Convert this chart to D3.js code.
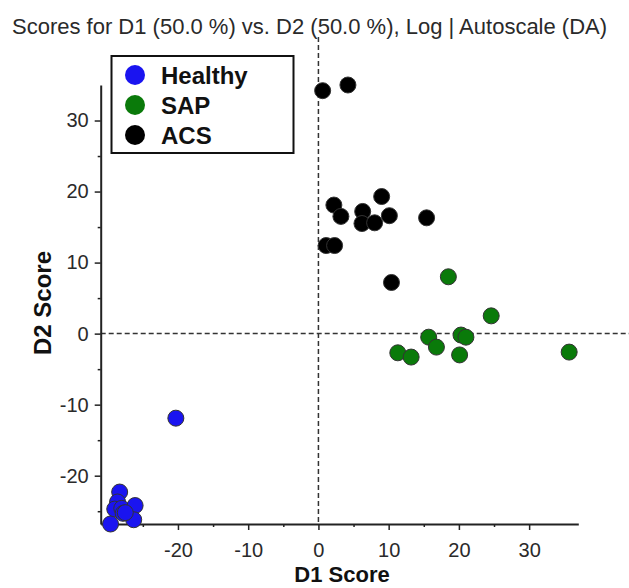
<!DOCTYPE html>
<html>
<head>
<meta charset="utf-8">
<script src="https://cdn.jsdelivr.net/npm/d3@7"></script>
<style>
  html, body { margin: 0; padding: 0; background: #fff; }
  svg { display: block; }
  text { font-family: "Liberation Sans", Arial, sans-serif; }
</style>
</head>
<body>
<svg id="chart" width="629" height="588"></svg>
<script>
// ---- Data ----
const groups = ["Healthy", "SAP", "ACS"];
const groupColors = ["#1a14f0", "#0a7a0a", "#000000"];

const healthyD1 = [-20.3, -28.3, -28.6, -29.0, -28.0, -26.1, -27.8, -26.3, -29.6, -27.5];
const healthyD2 = [-11.9, -22.3, -23.7, -24.7, -24.6, -24.2, -25.3, -26.2, -26.8, -25.2];

const sapD1 = [18.5, 24.6, 15.7, 20.3, 21.0, 16.8, 11.3, 13.2, 20.1, 35.7];
const sapD2 = [8.0, 2.5, -0.5, -0.2, -0.5, -1.9, -2.7, -3.3, -3.0, -2.6];

const acsD1 = [0.6, 4.2, 9.0, 2.2, 3.2, 6.3, 6.2, 8.0, 10.1, 15.4, 1.1, 2.3, 10.4];
const acsD2 = [34.2, 35.0, 19.3, 18.1, 16.5, 17.2, 15.5, 15.6, 16.6, 16.3, 12.4, 12.4, 7.2];

const xMajorTicks = [-20, -10, 0, 10, 20, 30];
const xMinorTicks = [-25, -15, -5, 5, 15, 25];
const yMajorTicks = [-20, -10, 0, 10, 20, 30];
const yMinorTicks = [-25, -15, -5, 5, 15, 25];

const titleText = "Scores for D1 (50.0 %) vs. D2 (50.0 %), Log | Autoscale (DA)";
const xLabel = "D1 Score";
const yLabel = "D2 Score";

// ---- Build ----
const svg = d3.select("#chart");
const x = d3.scaleLinear().domain([-31.0, 37]).range([100.7, 578.3]);
const y = d3.scaleLinear().domain([-26.8, 35]).range([524, 85]);

const axisColor = "#222";
const textColor = "#2a2a2a";
const fmt = d => String(d); // plain hyphen-minus as in the reference

// Title
svg.append("text")
  .attr("x", 12).attr("y", 34)
  .attr("font-size", 22)
  .attr("fill", textColor)
  .text(titleText);

// Dashed reference lines
svg.append("line")
  .attr("x1", x(0)).attr("x2", x(0))
  .attr("y1", 37).attr("y2", y.range()[0])
  .attr("stroke", "#333").attr("stroke-width", 1.5)
  .attr("stroke-dasharray", "5,3");
svg.append("line")
  .attr("x1", x.range()[0]).attr("x2", 629)
  .attr("y1", y(0)).attr("y2", y(0))
  .attr("stroke", "#333").attr("stroke-width", 1.5)
  .attr("stroke-dasharray", "5,3");

// Axes
const gx = svg.append("g").attr("transform", `translate(0,${y.range()[0]})`);
gx.call(d3.axisBottom(x).tickValues(xMajorTicks).tickFormat(fmt).tickSize(6).tickSizeOuter(0).tickPadding(13));
const gxm = svg.append("g").attr("transform", `translate(0,${y.range()[0]})`);
gxm.call(d3.axisBottom(x).tickValues(xMinorTicks).tickSize(3).tickSizeOuter(0).tickFormat(""));
gxm.select(".domain").remove();

const gy = svg.append("g").attr("transform", `translate(${x.range()[0]},0)`);
gy.call(d3.axisLeft(y).tickValues(yMajorTicks).tickFormat(fmt).tickSize(6).tickSizeOuter(0).tickPadding(6));
const gym = svg.append("g").attr("transform", `translate(${x.range()[0]},0)`);
gym.call(d3.axisLeft(y).tickValues(yMinorTicks).tickSize(3).tickSizeOuter(0).tickFormat(""));
gym.select(".domain").remove();

[gx, gy, gxm, gym].forEach(g => {
  g.selectAll(".domain").attr("stroke", axisColor).attr("stroke-width", 2);
  g.selectAll(".tick line").attr("stroke", axisColor).attr("stroke-width", 1.5);
  g.selectAll(".tick text")
    .attr("font-family", "'Liberation Sans', Arial, sans-serif")
    .attr("font-size", 20)
    .attr("fill", textColor);
});

// Axis labels
svg.append("text")
  .attr("x", 342).attr("y", 582)
  .attr("text-anchor", "middle")
  .attr("font-size", 22).attr("font-weight", "bold")
  .attr("fill", "#111")
  .text(xLabel);
svg.append("text")
  .attr("transform", "translate(51,303) rotate(-90)")
  .attr("text-anchor", "middle")
  .attr("font-size", 24).attr("font-weight", "bold")
  .attr("fill", "#111")
  .text(yLabel);

// Points
const series = [
  { xs: healthyD1, ys: healthyD2, c: groupColors[0] },
  { xs: sapD1, ys: sapD2, c: groupColors[1] },
  { xs: acsD1, ys: acsD2, c: groupColors[2] }
];
series.forEach(s => {
  svg.append("g").selectAll("circle")
    .data(s.xs.map((v, i) => [v, s.ys[i]]))
    .join("circle")
    .attr("cx", d => x(d[0]))
    .attr("cy", d => y(d[1]))
    .attr("r", 8)
    .attr("fill", s.c)
    .attr("stroke", "#333")
    .attr("stroke-width", 1);
});

// Legend
const lg = svg.append("g");
lg.append("rect")
  .attr("x", 111.5).attr("y", 56)
  .attr("width", 182).attr("height", 97)
  .attr("fill", "#fff")
  .attr("stroke", "#111").attr("stroke-width", 2);
groups.forEach((g, i) => {
  const cy = 75 + i * 30;
  lg.append("circle")
    .attr("cx", 135).attr("cy", cy).attr("r", 10)
    .attr("fill", groupColors[i]);
  lg.append("text")
    .attr("x", 161).attr("y", cy + 8.5)
    .attr("font-size", 24).attr("font-weight", "bold")
    .attr("fill", "#111")
    .text(g);
});
</script>
</body>
</html>
